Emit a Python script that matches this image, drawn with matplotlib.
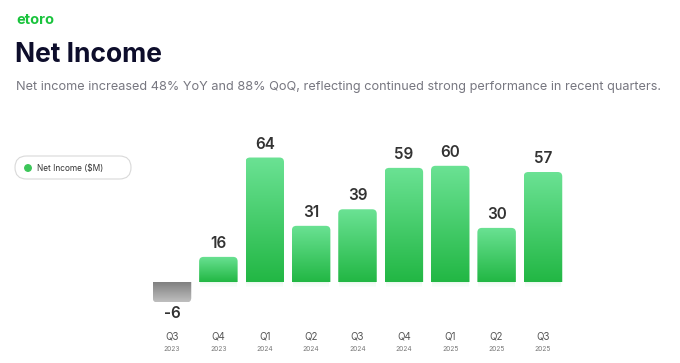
import numpy as np
import matplotlib.pyplot as plt
from matplotlib.patches import FancyBboxPatch, Ellipse
from matplotlib.colors import LinearSegmentedColormap

quarters = ["Q3", "Q4", "Q1", "Q2", "Q3", "Q4", "Q1", "Q2", "Q3"]
years = ["2023", "2023", "2024", "2024", "2024", "2024", "2025", "2025", "2025"]
net_income = [-6, 16, 64, 31, 39, 59, 60, 30, 57]

W, H = 680, 363
fig = plt.figure(figsize=(W / 100, H / 100), dpi=100)
fig.patch.set_facecolor("white")
plt.rcParams["font.family"] = ["Inter", "DejaVu Sans"]

# axes placed in pixels: zero ~290px from top, 2.07 px per $M
ppu_y = 2.07
ppu_x = 46.375
zero_px = 290
y0, y1 = -10, 70
x_left = 172 - 0.5 * ppu_x
bottom = (H - zero_px) + y0 * ppu_y
ax = fig.add_axes([x_left / W, bottom / H, 9 * ppu_x / W, (y1 - y0) * ppu_y / H])
ax.set_xlim(-0.5, 8.5)
ax.set_ylim(y0, y1)
ax.axis("off")

# visible floor of the positive bars / top of the negative bar
floor_pos = (zero_px - 282) / ppu_y
ceil_neg = (zero_px - 283) / ppu_y

x = np.arange(len(net_income))
width = 0.83
bars = ax.bar(x, net_income, width=width, color="none")

rx = 4.5 / ppu_x
aspect = ppu_x / ppu_y
grad = np.linspace(0, 1, 256).reshape(-1, 1)
cmap_g = LinearSegmentedColormap.from_list("g", ["#22b744", "#6be294"])
cmap_k = LinearSegmentedColormap.from_list("k", ["#bfbfbf", "#808080"])

for b, v in zip(bars, net_income):
    bx = b.get_x()
    bw = b.get_width()
    if v >= 0:
        # soft green glow at the base
        for k, a in enumerate([0.10, 0.07, 0.04, 0.02]):
            ax.fill_between([bx + 0.02, bx + bw - 0.02],
                            floor_pos - (k + 1) * 0.6, floor_pos - k * 0.6,
                            color="#2fc157", alpha=a, lw=0)
        patch = FancyBboxPatch((bx, floor_pos - 5), bw, v - floor_pos + 5,
                               boxstyle=f"round,pad=0,rounding_size={rx}",
                               mutation_aspect=aspect, fc="none", ec="none")
        ax.add_patch(patch)
        im = ax.imshow(grad, cmap=cmap_g, extent=[bx, bx + bw, floor_pos, v],
                       origin="lower", aspect="auto", interpolation="bilinear", zorder=2)
        im.set_clip_path(patch)
        ax.text(bx + bw / 2, v + 13.5 / ppu_y, f"{v}", ha="center", va="center",
                fontsize=11, fontweight="semibold", color="#333333")
    else:
        patch = FancyBboxPatch((bx, v), bw, ceil_neg - v + 5,
                               boxstyle=f"round,pad=0,rounding_size={rx}",
                               mutation_aspect=aspect, fc="none", ec="none")
        ax.add_patch(patch)
        im = ax.imshow(grad, cmap=cmap_k, extent=[bx, bx + bw, v, ceil_neg],
                       origin="lower", aspect="auto", interpolation="bilinear", zorder=2)
        im.set_clip_path(patch)
        ax.text(bx + bw / 2, v - 11 / ppu_y, f"{v}", ha="center", va="center",
                fontsize=11, fontweight="semibold", color="#333333")

# category labels
for i, (q, yr) in enumerate(zip(quarters, years)):
    xf = (172 + i * ppu_x) / W
    fig.text(xf, 1 - 337 / H, q, ha="center", va="center", fontsize=7, color="#555555")
    fig.text(xf, 1 - 349 / H, yr, ha="center", va="center", fontsize=4.8, color="#777777")

# header
fig.text(16 / W, 1 - 20 / H, "etoro", ha="left", va="center", fontsize=10.5,
         fontweight="bold", color="#19c33c")
fig.text(15 / W, 1 - 55 / H, "Net Income", ha="left", va="center", fontsize=19,
         fontweight="bold", color="#0d0d2b")
sub = fig.text(16 / W, 1 - 87 / H,
               "Net income increased 48% YoY and 88% QoQ, reflecting continued strong performance in recent quarters.",
               ha="left", va="center", fontsize=10, color="#777780")
# shrink the subtitle to the reference width (~648 px)
fig.canvas.draw()
tw = sub.get_window_extent().width
sub.set_fontsize(10 * 648 / tw)

# legend pill
pill = FancyBboxPatch((15 / W, 1 - 179 / H), 116 / W, 23 / H,
                      boxstyle=f"round,pad=0,rounding_size={11.5 / W}",
                      mutation_aspect=W / H, transform=fig.transFigure,
                      fc="white", ec="#d9d9d9", lw=0.8)
fig.add_artist(pill)
fig.add_artist(Ellipse((28 / W, 1 - 168 / H), 6.5 / W, 6.5 / H,
                       transform=fig.transFigure, color="#3cc659"))
fig.text(37 / W, 1 - 168 / H, "Net Income ($M)", ha="left", va="center",
         fontsize=6, color="#333333")

fig.savefig("out.png", dpi=100, facecolor="white")
